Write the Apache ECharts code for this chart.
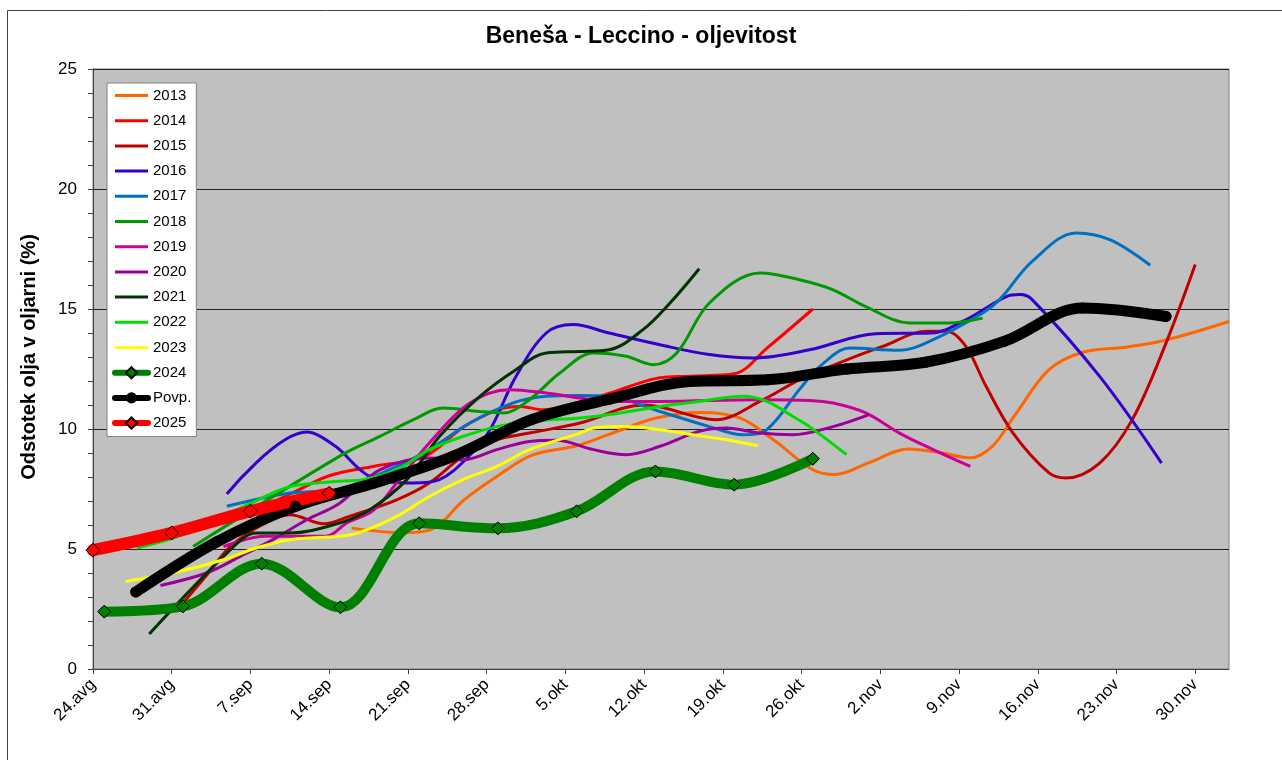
<!DOCTYPE html>
<html><head><meta charset="utf-8">
<script src="https://cdn.jsdelivr.net/npm/echarts@6/dist/echarts.min.js"></script>
<style>html,body{margin:0;padding:0;background:#fff;}#c{width:1282px;height:760px;}</style>
</head><body><div id="c"></div>
<script>
// x values are days counted from 24 Aug
const tickDays = [0,7,14,21,28,35,42,49,56,63,70,77,84,91,98];
const tickLabels = ['24.avg','31.avg','7.sep','14.sep','21.sep','28.sep','5.okt','12.okt','19.okt','26.okt','2.nov','9.nov','16.nov','23.nov','30.nov'];

const s2013 = [[23,5.87],[27.5,5.68],[30,5.8],[33,7.05],[36,8.05],[39,8.9],[43,9.3],[46,9.8],[50,10.45],[54,10.69],[57.5,10.46],[60.5,9.55],[64,8.3],[66,8.1],[69,8.6],[72.5,9.17],[75.5,9.0],[78,8.8],[80,9.3],[82,10.6],[85,12.47],[88,13.2],[92,13.42],[95.5,13.72],[101,14.48]];
const s2014 = [[14,6.5],[18,7.4],[21,8.05],[25,8.45],[29.5,8.86],[33,10.1],[36,10.8],[38,10.94],[40,10.8],[43,11.1],[46,11.5],[50,12.1],[53,12.2],[57,12.3],[60,13.4],[64,15.0]];
const s2015 = [[8,2.75],[10.1,3.9],[12.2,5.1],[15,6.0],[17.5,6.43],[20.5,6.05],[22.8,6.36],[27,7.05],[29.9,7.75],[32.9,8.86],[35.9,9.55],[38.8,9.83],[43.3,10.25],[49,11.0],[55.4,10.39],[59.5,11.2],[62.8,12.05],[66.7,12.82],[70.2,13.44],[74.1,14.07],[75.9,14.07],[77.6,13.44],[79.4,11.78],[81.8,9.83],[85,8.17],[86.5,7.96],[89.5,8.58],[92.4,10.39],[95.4,13.58],[98,16.85]];
const s2016 = [[11.9,7.29],[19,9.87],[21.5,9.3],[24.6,8.03],[28.5,7.75],[30.8,7.89],[33.4,8.86],[35.3,9.97],[37.6,12.19],[40.3,14.0],[42.7,14.35],[45.9,14.0],[50.4,13.51],[54.8,13.1],[58.7,12.96],[63.7,13.3],[69.6,13.97],[74.6,14.0],[77.6,14.55],[81.2,15.52],[82.4,15.6],[83.5,15.39],[89.5,12.19],[95,8.58]];
const s2017 = [[11.9,6.78],[17.5,7.33],[21.9,7.5],[27,8.44],[29.9,9.14],[33.5,10.25],[37.3,11.08],[40.3,11.36],[43.3,11.4],[45.9,11.36],[50.4,10.73],[54.8,10.1],[57.8,9.76],[59.9,9.97],[62.8,11.64],[64.6,12.6],[67.3,13.37],[71.7,13.28],[74.7,13.72],[79.1,14.83],[80.6,15.39],[83.5,16.98],[87.4,18.17],[90.4,17.89],[94,16.82]];
const s2018 = [[8.9,5.1],[21.9,8.86],[25.5,9.69],[28.5,10.39],[31.1,10.87],[34.4,10.73],[36.5,10.67],[38.8,11.22],[41.5,12.33],[44.5,13.17],[47.4,13.03],[49.8,12.68],[51.9,13.17],[54.8,15.25],[59.3,16.5],[62.8,16.22],[65.8,15.8],[68.7,15.1],[72.6,14.42],[76.1,14.42],[79.1,14.62]];
const s2019 = [[11.6,5.1],[15.3,5.53],[20.7,5.53],[22.6,6.1],[24.9,6.6],[27,7.75],[29.9,9.42],[33.5,11.08],[37,11.64],[40.3,11.5],[43.3,11.29],[45.9,11.15],[50.4,11.15],[59.3,11.22],[63.7,11.19],[65.8,11.08],[68.7,10.67],[71.7,9.83],[74.7,9.14],[78,8.44]];
const s2020 = [[6,3.48],[10.1,4.0],[13.1,4.69],[16,5.39],[19,6.22],[21.9,6.9],[25.5,8.3],[29.9,8.79],[32.9,8.72],[35.9,9.14],[38.8,9.48],[41.2,9.53],[44.5,9.14],[47.4,8.93],[50.4,9.28],[53.9,9.9],[56.3,10.04],[59.3,9.83],[62.2,9.76],[65.8,10.1],[69,10.6]];
const s2021 = [[5,1.46],[12.5,5.1],[14.5,5.67],[17.5,5.67],[21.9,6.08],[24.5,6.6],[27.9,7.89],[30.8,9.69],[34.4,11.36],[37.6,12.47],[40.3,13.17],[43.3,13.23],[45.9,13.3],[48.9,14.14],[51.3,15.25],[53.9,16.68]];
const s2022 = [[3.9,5.04],[8,5.6],[14,6.9],[17.5,7.6],[21.9,7.82],[24,7.89],[27,8.3],[29.9,9.14],[32.9,9.69],[35.9,10.1],[38.8,10.32],[43.3,10.46],[45.9,10.6],[50.4,10.94],[53.9,11.15],[57.8,11.36],[59.9,11.15],[62.2,10.53],[63.7,10.1],[67,8.93]];
const s2023 = [[2.9,3.65],[7.1,4.0],[11.6,4.55],[14.5,5.04],[17.5,5.39],[21.9,5.53],[23.6,5.67],[27,6.36],[29.9,7.19],[32.9,7.89],[35.9,8.44],[38.8,9.14],[43.3,9.83],[44.5,10.04],[47.4,10.1],[50.4,9.97],[53.3,9.76],[56.3,9.55],[59.1,9.3]];
const s2024 = [[1,2.39],[8,2.61],[15,4.39],[22,2.57],[29,6.07],[36,5.86],[43,6.57],[50,8.23],[57,7.68],[64,8.76]];
const sPovp = [[3.8,3.21],[11,5.3],[18,6.78],[25,7.75],[32,8.86],[39,10.39],[46,11.25],[53,11.98],[60,12.05],[67,12.5],[74,12.78],[81,13.65],[88,15.04],[95.4,14.69]];
const s2025 = [[0,4.95],[7,5.67],[14,6.58],[21,7.32]];

const FONT = 'Liberation Sans, Arial, sans-serif';
function thin(name, data, color) {
  return {name, type:'line', data, smooth:0.35, symbol:'none', showSymbol:false,
    lineStyle:{color, width:3}, itemStyle:{color}, emphasis:{disabled:true}};
}
function thick(name, data, color, width, symbol, size, border) {
  return {name, type:'line', data, smooth:0.35, symbol, symbolSize:size, showSymbol:true,
    lineStyle:{color, width, cap:'round', join:'round'},
    itemStyle:{color, borderColor:border, borderWidth:border?1:0}, emphasis:{disabled:true}};
}
const series = [
  thin('2013', s2013, '#FF6600'),
  thin('2014', s2014, '#FF0000'),
  thin('2015', s2015, '#C00000'),
  thin('2016', s2016, '#3300CC'),
  thin('2017', s2017, '#0070C0'),
  thin('2018', s2018, '#009900'),
  thin('2019', s2019, '#CC0099'),
  thin('2020', s2020, '#990099'),
  thin('2021', s2021, '#003300'),
  thin('2022', s2022, '#00DD00'),
  thin('2023', s2023, '#FFFF00'),
  thick('2024', s2024, '#008000', 10, 'diamond', 13, '#000'),
  thick('Povp.', sPovp, '#000000', 11, 'circle', 11, null),
  thick('2025', s2025, '#FF0000', 12, 'diamond', 14, '#000')
];
const legendData = series.map(s => {
  const big = (s.name === '2024' || s.name === 'Povp.' || s.name === '2025');
  return big ? {name:s.name, lineStyle:{width:6}}
             : {name:s.name, lineStyle:{width:3}, itemStyle:{opacity:0}};
});

const chart = echarts.init(document.getElementById('c'), null, {renderer:'canvas'});
chart.setOption({
  animation:false,
  backgroundColor:'#fff',
  title:{text:'Beneša - Leccino - oljevitost', left:'center', top:20,
    textStyle:{fontFamily:FONT, fontSize:23, fontWeight:'bold', color:'#000'}},
  graphic:[
    {type:'rect', silent:true, z:-10, shape:{x:7.5,y:10.5,width:1400,height:900},
      style:{fill:'none', stroke:'#404040', lineWidth:1}},
    {type:'text', silent:true, x:29, y:357, rotation:Math.PI/2,
      style:{text:'Odstotek olja v oljarni (%)', font:'bold 20px ' + FONT, fill:'#000',
        align:'center', verticalAlign:'middle'}}
  ],
  grid:{left:93, top:69, width:1136, height:600, show:true, backgroundColor:'#C0C0C0',
    borderColor:'#808080', borderWidth:1},
  legend:{orient:'vertical', left:107, top:83, data:legendData,
    itemWidth:33, itemHeight:14, itemGap:10.2, padding:[5,5,6,5],
    backgroundColor:'#fff', borderColor:'#808080', borderWidth:1,
    textStyle:{fontFamily:FONT, fontSize:15, lineHeight:14, color:'#000'}, selectedMode:false},
  xAxis:{type:'value', min:0, max:101, interval:7,
    axisLine:{show:true, lineStyle:{color:'#404040', width:1}},
    axisTick:{show:true, length:5, lineStyle:{color:'#404040'}, customValues:tickDays},
    axisLabel:{rotate:45, margin:13, fontFamily:FONT, fontSize:17, color:'#000',
      customValues:tickDays,
      formatter: v => { const i = tickDays.indexOf(v); return i >= 0 ? tickLabels[i] : ''; }},
    splitLine:{show:false}},
  yAxis:{type:'value', min:0, max:25, interval:5,
    axisLine:{show:true, lineStyle:{color:'#404040', width:1}},
    axisTick:{show:true, length:5, lineStyle:{color:'#404040'}},
    minorTick:{show:true, splitNumber:5, length:5, lineStyle:{color:'#404040'}},
    axisLabel:{margin:16, fontFamily:FONT, fontSize:17, color:'#000'},
    splitLine:{show:true, lineStyle:{color:'#202020', width:1}}},
  series
});
</script></body></html>
